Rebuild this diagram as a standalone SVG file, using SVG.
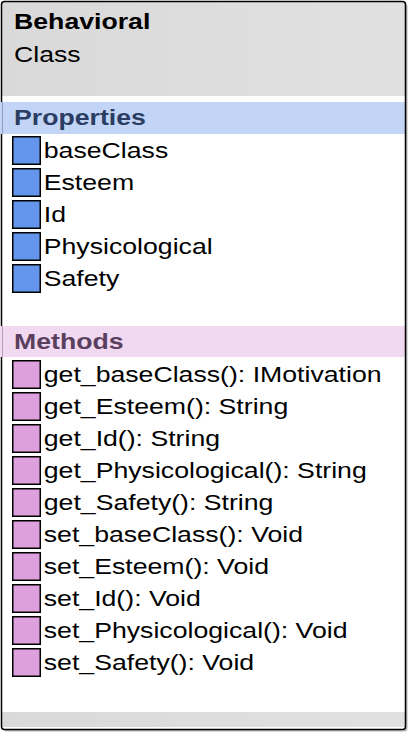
<svg xmlns="http://www.w3.org/2000/svg" width="412" height="736" viewBox="0 0 412 736">
<defs>
<linearGradient id="hdr" x1="0" y1="0" x2="1" y2="0">
<stop offset="0" stop-color="#d9d9d9"/>
<stop offset="1" stop-color="#e1e1e1"/>
</linearGradient>
<style>
text{font-family:"Liberation Sans",Arial,sans-serif;font-size:22px;fill:#000}
.b{font-weight:bold}
.pi{fill:#6495ed;stroke:#000;stroke-width:1.5}
.mi{fill:#dda0dd;stroke:#000;stroke-width:1.5}
</style>
</defs>
<g id="class-node">
<rect x="3.5" y="3.5" width="404" height="728" rx="3" fill="#8a8a8a" opacity="0.6"/>
<rect x="1.5" y="1.5" width="404" height="728" rx="3" fill="#fff"/>
<rect x="2" y="2" width="403" height="94" fill="url(#hdr)"/>
<rect x="0" y="102" width="405" height="32" fill="#c2d5f6"/>
<rect x="0" y="326" width="405" height="31" fill="#f1d9f1"/>
<rect x="2" y="712" width="403" height="15" fill="url(#hdr)"/>
<rect x="1.5" y="1.5" width="404" height="728" rx="3" fill="none" stroke="#000" stroke-width="1.5"/>
<rect x="0" y="102" width="2" height="32" fill="#c2d5f6"/>
<rect x="0" y="326" width="2" height="31" fill="#f1d9f1"/>
<g id="prop-icons">
<rect class="pi" x="12.75" y="136.75" width="27.5" height="27.5"/>
<rect class="pi" x="12.75" y="168.75" width="27.5" height="27.5"/>
<rect class="pi" x="12.75" y="200.75" width="27.5" height="27.5"/>
<rect class="pi" x="12.75" y="232.75" width="27.5" height="27.5"/>
<rect class="pi" x="12.75" y="264.75" width="27.5" height="27.5"/>
</g>
<g id="method-icons">
<rect class="mi" x="12.75" y="360.75" width="27.5" height="27.5"/>
<rect class="mi" x="12.75" y="392.75" width="27.5" height="27.5"/>
<rect class="mi" x="12.75" y="424.75" width="27.5" height="27.5"/>
<rect class="mi" x="12.75" y="456.75" width="27.5" height="27.5"/>
<rect class="mi" x="12.75" y="488.75" width="27.5" height="27.5"/>
<rect class="mi" x="12.75" y="520.75" width="27.5" height="27.5"/>
<rect class="mi" x="12.75" y="552.75" width="27.5" height="27.5"/>
<rect class="mi" x="12.75" y="584.75" width="27.5" height="27.5"/>
<rect class="mi" x="12.75" y="616.75" width="27.5" height="27.5"/>
<rect class="mi" x="12.75" y="648.75" width="27.5" height="27.5"/>
</g>
<g id="texts" transform="scale(1.212 1)">
<text class="b" x="11.6" y="29">Behavioral</text>
<text x="11.6" y="62">Class</text>
<text class="b" x="11.6" y="125" style="fill:#2b3d63">Properties</text>
<text x="36.1" y="158">baseClass</text>
<text x="36.1" y="190">Esteem</text>
<text x="36.1" y="222">Id</text>
<text x="36.1" y="254">Physicological</text>
<text x="36.1" y="286">Safety</text>
<text class="b" x="11.6" y="349" style="fill:#5a3f5e">Methods</text>
<text x="36.1" y="382.5">get_baseClass(): IMotivation</text>
<text x="36.1" y="414.5">get_Esteem(): String</text>
<text x="36.1" y="446.5">get_Id(): String</text>
<text x="36.1" y="478.5">get_Physicological(): String</text>
<text x="36.1" y="510.5">get_Safety(): String</text>
<text x="36.1" y="542.5">set_baseClass(): Void</text>
<text x="36.1" y="574.5">set_Esteem(): Void</text>
<text x="36.1" y="606.5">set_Id(): Void</text>
<text x="36.1" y="638.5">set_Physicological(): Void</text>
<text x="36.1" y="670.5">set_Safety(): Void</text>
</g>
</g>
<g id="connectors"/>
</svg>
